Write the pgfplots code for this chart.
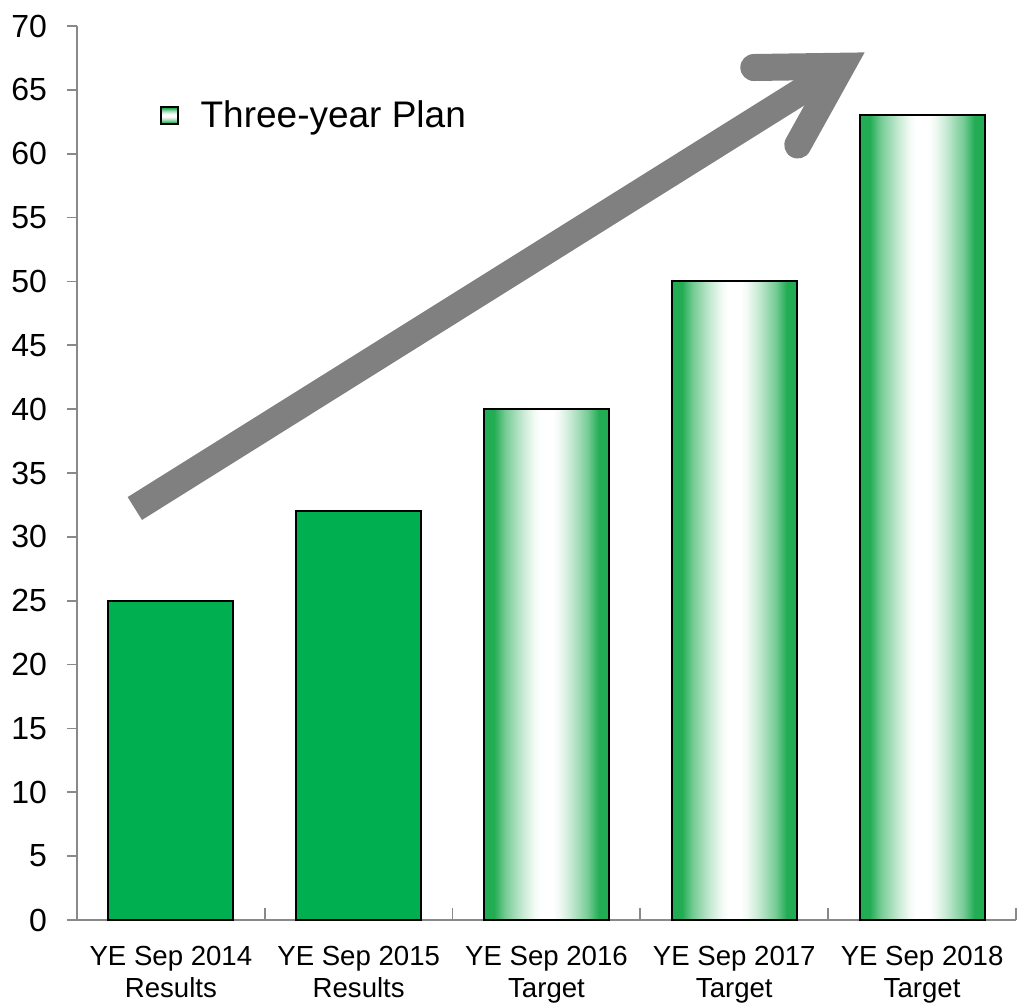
\documentclass[border=0pt]{standalone}
\usepackage{pgfplots}
\pgfplotsset{compat=1.18}
\usepackage{fontspec}
\setmainfont{Liberation Sans}
\definecolor{bargreen}{RGB}{0,176,80}
\definecolor{edgegreen}{RGB}{34,172,84}
\definecolor{axgray}{RGB}{137,137,137}
\definecolor{arrowgray}{RGB}{128,128,128}
\pgfdeclarehorizontalshading{barshade}{100bp}{color(0bp)=(edgegreen); color(29bp)=(edgegreen); color(33.5bp)=(edgegreen!62!white); color(40.5bp)=(edgegreen!25!white); color(45bp)=(edgegreen!6!white); color(47.5bp)=(white); color(52.5bp)=(white); color(55bp)=(edgegreen!6!white); color(59.5bp)=(edgegreen!25!white); color(66.5bp)=(edgegreen!62!white); color(71bp)=(edgegreen); color(100bp)=(edgegreen)}
\begin{document}
\begin{tikzpicture}
\useasboundingbox (-38.5pt,-41.5pt) rectangle (476.5pt,460pt);
\begin{axis}[
  at={(0,0)}, anchor=south west,
  scale only axis,
  width=469.5pt, height=447pt,
  xmin=-0.5, xmax=4.5, ymin=0, ymax=70,
  axis x line*=bottom, axis y line*=left,
  axis line style={axgray, line width=0.9pt},
  ytick={0,5,...,70},
  xtick={0,1,2,3,4},
  xticklabels={{YE Sep 2014\\Results},{YE Sep 2015\\Results},{YE Sep 2016\\Target},{YE Sep 2017\\Target},{YE Sep 2018\\Target}},
  minor xtick={0.5,1.5,2.5,3.5,4.5},
  x tick style={draw=none},
  minor x tick style={draw=axgray, line width=0.9pt},
  minor tick length=6pt,
  y tick style={axgray, line width=0.9pt},
  major tick length=5pt,
  tick align=outside,
  minor x tick style={/pgfplots/tick align=inside},
  x tick label style={align=center, font=\fontsize{13.8}{15.8}\selectfont, yshift=-4.8pt},
  y tick label style={font=\fontsize{16}{19}\selectfont, xshift=-6.5pt},
  /pgf/number format/assume math mode=true,
  ybar, bar width=62.5pt,
  legend style={draw=none, fill=none, at={(rel axis cs:0.078,0.9)}, anchor=west,
    font=\fontsize{18.5}{22}\selectfont},
  legend image code/.code={\draw[black, line width=1pt, shading=barshade, shading angle=90] (2pt,-4.25pt) rectangle (10.5pt,4.25pt); \path[draw=none,fill=none] (0pt,0pt) -- (20pt,0pt);},
  clip=false,
]
\addplot[bar shift=0pt, fill=bargreen, draw=black, line width=1pt, forget plot] coordinates {(0,25) (1,32)};
\addplot[bar shift=0pt, draw=black, line width=1pt, shading=barshade] coordinates {(2,40)};
\addlegendentry{Three-year Plan}
\addplot[bar shift=0pt, draw=black, line width=1pt, shading=barshade, forget plot] coordinates {(3,50)};
\addplot[bar shift=0pt, draw=black, line width=1pt, shading=barshade, forget plot] coordinates {(4,63)};
\draw[arrowgray, line width=13.5pt] (axis cs:-0.192,32.22) -- (axis cs:3.571,66.85);
\draw[arrowgray, line width=13.5pt, line cap=round, line join=miter] (axis cs:3.104,66.75) -- (axis cs:3.571,66.85) -- (axis cs:3.338,60.68);
\end{axis}
\end{tikzpicture}
\end{document}
